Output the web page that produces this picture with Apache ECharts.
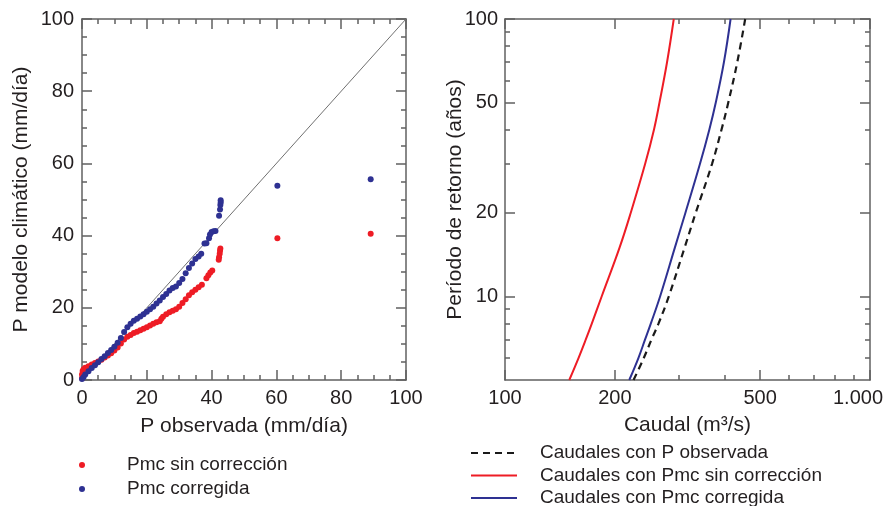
<!DOCTYPE html>
<html><head><meta charset="utf-8">
<script src="https://cdn.jsdelivr.net/npm/echarts@6/dist/echarts.min.js"></script>
<style>html,body{margin:0;padding:0;background:#fff}#c{width:883px;height:506px}</style>
</head><body><div id="c"></div><script>
// ---- Left panel: quantile-quantile data (mm/día)
const pObsSin = [0,0,0.2,0.5,1,2,3,4,5,6,7,8,9,10,11,12,13,14,15,16,17,18,19,20,21,22,23,24,24.5,25,26,27,28,29,30,31,32,33,34,35,36,37,38.4,39,39.6,40.2,42.2,42.3,42.5,42.6,42.7,60.3,89.1];
const pmcSin   = [0.5,1.5,2.5,3,3.4,3.8,4.3,4.7,5.1,5.6,6.2,6.8,7.4,8.2,9,10.1,11.2,12,12.5,13,13.4,13.8,14.2,14.6,15.1,15.6,16,16.3,17,17.5,18.2,18.8,19.2,19.6,20.3,21.3,22.4,23.5,24.3,25,25.7,26.4,28.2,29,29.8,30.3,33.3,34,35,35.8,36.4,39.3,40.5];
const pObsCorr = [0,0.5,1,2,3,4,5,6,7,8,9,10,11,12,13,14,15,16,17,18,19,20,21,22,23,24,25,26,27,28,29,30,31,32,33,34,35,36,36.8,37.8,38.4,39.2,39.5,40,40.6,41.2,42.3,42.6,42.7,42.8,42.8,60.3,89.1];
const pmcCorr  = [0.3,0.8,1.5,2.4,3.3,4.1,4.9,5.8,6.6,7.5,8.3,9.2,10.3,11.6,13.3,14.6,15.6,16.4,17,17.6,18.2,18.9,19.6,20.3,21.2,22,23,23.8,24.8,25.5,25.9,26.9,28,29.6,31,32.3,33.5,34.2,35,37.8,37.9,39.3,40.3,41,41.2,41.3,45.5,47.2,48.5,49.2,49.8,53.8,55.6];
const diagX = [0,100];
const diagY = [0,100];
const leftTicks = [0,20,40,60,80,100];

// ---- Right panel: return period (años) vs caudal (m3/s)
const returnPeriod = [5,6,7,8,10,15,20,30,40,50,70,100];
const qObs  = [225,240,252,263.5,281,310.5,333,369,392,409,433,455];
const qSin  = [150,159,166.5,173,184,206,221,242,256,265,278,290];
const qCorr = [219,232,242,251,266,292,312,342,363,378,398,415];
const qMajorTicks = [100,200,500,1000];
const qMinorTicks = [300,400,600,700,800,900];
const tMajorTicks = [10,20,50,100];
const tMinorTicks = [6,7,8,9,30,40,60,70,80,90];

const FONT = '"Liberation Sans", Arial, Helvetica, sans-serif';
const AX = '#606060';
const TXT = '#231f20';
const RED = '#ee1c25';
const BLUE = '#2e3192';
const lineSt = {color: AX, width: 1.5};
const lbl = {fontSize: 20, color: TXT, fontFamily: FONT};
const nameSt = {fontSize: 21, color: TXT, fontFamily: FONT};

function fmtQ(n){ return String(n).replace(/\B(?=(\d{3})+(?!\d))/g, '.'); }
const lg = Math.log10;

function linAxis(grid, pos, showLabel, extra){
  return Object.assign({
    type:'value', gridIndex:grid, position:pos, min:0, max:100, interval:20,
    axisLine:{show:true, onZero:false, lineStyle:lineSt},
    axisTick:{show:true, inside:true, length:10, lineStyle:lineSt},
    minorTick:{show:true, splitNumber:4, length:5, lineStyle:lineSt},
    splitLine:{show:false}, minorSplitLine:{show:false},
    axisLabel:Object.assign({show:showLabel, margin:8, customValues:leftTicks}, lbl)
  }, extra||{});
}
function logTickAxis(grid, pos, lo, hi, vals, len, showLine, showLabel){
  const cv = vals.map(lg);
  return {
    type:'value', gridIndex:grid, position:pos, min:lg(lo), max:lg(hi),
    axisLine:{show:showLine, onZero:false, lineStyle:lineSt},
    axisTick:{show:true, inside:true, length:len, lineStyle:lineSt, customValues:cv},
    splitLine:{show:false},
    axisLabel:Object.assign({show:showLabel, margin:(pos==='left'?7:8), customValues:cv,
      formatter:v=>{ const n=Math.round(Math.pow(10,v)); return n>=1000 ? '{last|'+fmtQ(n)+'}' : fmtQ(n); },
      rich:{last:{fontSize:20, color:TXT, fontFamily:FONT, padding:[0,24,0,0]}}}, lbl)
  };
}
function logDataAxis(grid, pos, lo, hi, name, gap){
  return {
    type:'log', logBase:10, gridIndex:grid, position:pos, min:lo, max:hi,
    axisLine:{show:true, onZero:false, lineStyle:lineSt},
    axisTick:{show:false}, axisLabel:{show:false}, splitLine:{show:false}, minorTick:{show:false},
    name:name, nameLocation:'middle', nameGap:gap, nameTextStyle:nameSt
  };
}

const chart = echarts.init(document.getElementById('c'), null, {renderer:'canvas'});
chart.setOption({
  animation:false,
  backgroundColor:'#fff',
  textStyle:{fontFamily:FONT},
  grid:[
    {left:82, top:19, width:324, height:361, containLabel:false, outerBoundsMode:'none'},
    {left:505, top:19, width:365, height:361, containLabel:false, outerBoundsMode:'none'}
  ],
  xAxis:[
    linAxis(0,'bottom',true,{name:'P observada (mm/día)', nameLocation:'middle', nameGap:36, nameTextStyle:nameSt}),
    linAxis(0,'top',false),
    logDataAxis(1,'bottom',100,1000,'Caudal (m³/s)',35),
    logTickAxis(1,'bottom',100,1000,qMajorTicks,10,false,true),
    logTickAxis(1,'bottom',100,1000,qMinorTicks,5,false,false),
    logTickAxis(1,'top',100,1000,qMajorTicks,10,true,false),
    logTickAxis(1,'top',100,1000,qMinorTicks,5,false,false)
  ],
  yAxis:[
    linAxis(0,'left',true,{name:'P modelo climático (mm/día)', nameLocation:'middle', nameGap:50, nameTextStyle:nameSt}),
    linAxis(0,'right',false),
    logDataAxis(1,'left',5,100,'Período de retorno (años)',39),
    logTickAxis(1,'left',5,100,tMajorTicks,10,false,true),
    logTickAxis(1,'left',5,100,tMinorTicks,5,false,false),
    logTickAxis(1,'right',5,100,tMajorTicks,10,true,false),
    logTickAxis(1,'right',5,100,tMinorTicks,5,false,false)
  ],
  legend:[
    {orient:'vertical', left:79, top:455, height:80, padding:0, itemGap:4, icon:'circle', itemWidth:6, itemHeight:6,
     data:['Pmc sin corrección','Pmc corregida'],
     textStyle:{fontSize:19, lineHeight:20, color:TXT, fontFamily:FONT, padding:[0,0,0,37]}},
    {orient:'vertical', left:470, top:443, height:90, padding:0, itemGap:2.5, itemWidth:46, itemHeight:14,
     itemStyle:{opacity:0, color:'rgba(0,0,0,0)', borderColor:'rgba(0,0,0,0)', borderWidth:0},
     data:['Caudales con P observada','Caudales con Pmc sin corrección','Caudales con Pmc corregida'],
     textStyle:{fontSize:19, lineHeight:20, color:TXT, fontFamily:FONT, padding:[0,0,0,18]}}
  ],
  series:[
    {type:'line', name:'1:1', xAxisIndex:0, yAxisIndex:0, data:diagX.map((x,i)=>[x,diagY[i]]),
     symbol:'none', lineStyle:{color:'#707070', width:1}, z:1, silent:true},
    {type:'scatter', name:'Pmc sin corrección', xAxisIndex:0, yAxisIndex:0,
     data:pObsSin.map((x,i)=>[x,pmcSin[i]]), symbolSize:6, itemStyle:{color:RED, opacity:1}, z:3},
    {type:'scatter', name:'Pmc corregida', xAxisIndex:0, yAxisIndex:0,
     data:pObsCorr.map((x,i)=>[x,pmcCorr[i]]), symbolSize:6, itemStyle:{color:BLUE, opacity:1}, z:4},
    {type:'line', name:'Caudales con P observada', xAxisIndex:2, yAxisIndex:2,
     data:returnPeriod.map((t,i)=>[qObs[i],t]), symbol:'none', smooth:0.4,
     lineStyle:{color:'#1a1a1a', width:2.2, type:[7,5]}, itemStyle:{color:'#1a1a1a'}},
    {type:'line', name:'Caudales con Pmc sin corrección', xAxisIndex:2, yAxisIndex:2,
     data:returnPeriod.map((t,i)=>[qSin[i],t]), symbol:'none', smooth:0.4,
     lineStyle:{color:RED, width:2}, itemStyle:{color:RED}},
    {type:'line', name:'Caudales con Pmc corregida', xAxisIndex:2, yAxisIndex:2,
     data:returnPeriod.map((t,i)=>[qCorr[i],t]), symbol:'none', smooth:0.4,
     lineStyle:{color:BLUE, width:2}, itemStyle:{color:BLUE}}
  ]
});
</script></body></html>
